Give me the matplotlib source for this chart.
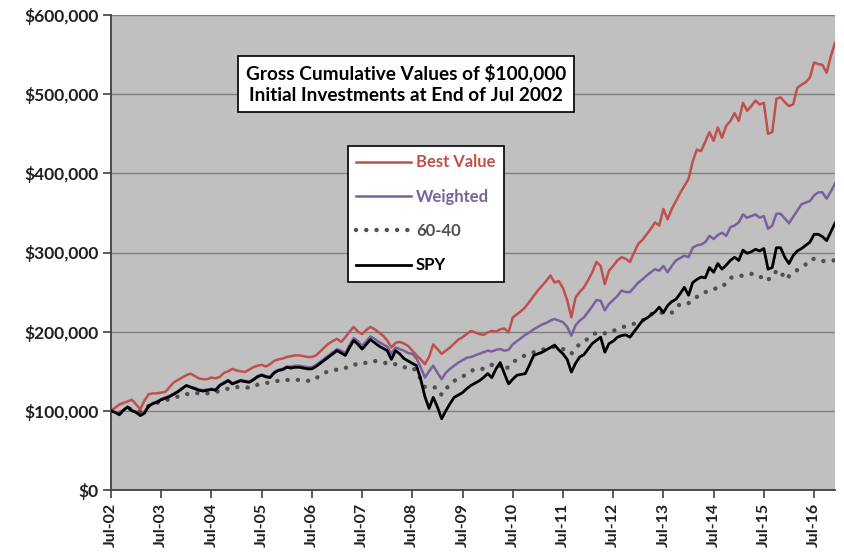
import matplotlib
matplotlib.use("Agg")
import matplotlib.pyplot as plt
from matplotlib.ticker import FuncFormatter

# Monthly gross values ($ thousands), end of Jul 2002 to end of Dec 2016
best_value = [
    100, 104, 108, 110, 112, 114, 108, 102, 113, 121, 122, 122,
    123, 124, 130, 136, 139, 142, 145, 147, 144, 141, 140, 140,
    142, 141, 143, 148, 150, 153, 151, 150, 149, 152, 155, 157,
    158, 156, 159, 163, 165, 166, 168, 169, 170, 170, 169, 168,
    168, 170, 175, 180, 185, 188, 191, 187, 193, 200, 206, 200,
    197, 202, 206, 203, 199, 195, 189, 180, 186, 187, 185, 182,
    176, 170, 165, 159, 168, 184, 178, 172, 176, 180, 185, 190,
    193, 197, 201, 199, 197, 196, 199, 201, 200, 203, 204, 199,
    218, 222, 226, 231, 238, 245, 252, 258, 264, 271, 262, 264,
    255, 240, 218, 243, 250, 256, 265, 275, 288, 283, 260, 277,
    283, 290, 294, 292, 288, 300, 311, 316, 323, 330, 338, 334,
    355, 342, 355, 365, 375, 384, 393, 415, 430, 428, 440, 452,
    441, 458, 445, 460, 466, 476, 466, 489, 479, 485, 492, 487,
    489, 450, 452, 494, 496, 490, 485, 487, 508, 512, 515, 521,
    540, 538, 537, 527, 548, 565,
]

weighted = [
    100, 98, 96, 101, 105, 101, 99, 96, 99, 107, 110, 112,
    115, 117, 119, 122, 125, 129, 132, 130, 129, 127, 126, 127,
    128, 127, 133, 136, 139, 135, 137, 139, 138, 137, 140, 144,
    146, 144, 143, 149, 152, 153, 156, 156, 157, 157, 156, 155,
    155, 158, 162, 166, 170, 174, 178, 176, 173, 183, 192, 188,
    182, 188, 194, 191, 187, 184, 181, 172, 180, 178, 176, 173,
    172, 166, 155, 142, 150, 157, 148, 140, 148, 153, 157, 161,
    164, 167, 168, 170, 172, 174, 176, 175, 177, 178, 176, 177,
    184, 188, 192, 196, 199, 203, 206, 209, 211, 214, 216, 214,
    212, 206, 195, 208, 214, 218, 225, 232, 240, 239, 227, 235,
    240, 245, 252, 250, 250, 256, 262, 266, 271, 275, 279, 277,
    283, 275, 283, 290, 293, 296, 294, 306, 309, 310, 313, 321,
    317, 322, 325, 321, 332, 334, 338, 348, 344, 346, 348, 344,
    346, 330, 334, 349, 349, 343, 337, 345, 353, 361, 363, 365,
    372, 376, 376, 368, 377, 387,
]

sixty_forty = [
    100, 99, 97, 100, 103, 102, 101, 99, 101, 106, 108, 110,
    112, 113, 115, 117, 118, 119, 121, 122, 123, 122, 121, 122,
    123, 124, 125, 127, 128, 128, 130, 130, 130, 129, 131, 133,
    134, 135, 136, 137, 138, 139, 139, 139, 139, 139, 139, 138,
    138, 141, 145, 148, 150, 151, 152, 152, 154, 157, 159, 158,
    159, 161, 163, 163, 162, 161, 160, 158, 159, 157, 155, 155,
    155, 150, 140, 130, 130, 130, 129, 120, 127, 134, 138, 140,
    143, 147, 150, 153, 153, 153, 155, 158, 161, 157, 151, 156,
    161, 165, 168, 170, 172, 174, 176, 177, 179, 180, 181, 180,
    178, 176, 172, 180, 184, 188, 191, 195, 199, 199, 198, 201,
    201, 203, 205, 207, 209, 210, 212, 214, 218, 222, 223, 224,
    224, 224, 224, 230, 235, 235, 236, 240, 244, 248, 250, 251,
    254, 255, 256, 262, 268, 269, 270, 271, 272, 273, 272, 271,
    264, 266, 268, 277, 277, 266, 270, 275, 278, 281, 285, 291,
    292, 290, 289, 290, 290, 290,
]

spy = [
    100, 98, 95, 101, 105, 100, 98, 94, 97, 106, 109, 111,
    114, 116, 118, 121, 124, 128, 132, 130, 128, 126, 125, 126,
    127, 126, 132, 135, 138, 134, 136, 138, 137, 136, 139, 143,
    145, 143, 142, 148, 151, 152, 155, 154, 155, 155, 154, 153,
    153, 156, 160, 164, 168, 172, 176, 173, 170, 180, 189, 184,
    178, 184, 190, 186, 182, 179, 176, 165, 176, 172, 166, 163,
    160, 157, 140, 118, 103, 117, 105, 90, 100, 109, 117, 120,
    123, 128, 132, 135, 138, 142, 147, 142, 153, 161, 147, 134,
    140, 145, 146, 147, 158, 170, 172, 174, 177, 180, 183, 177,
    172, 165, 149, 160, 168, 171, 178, 185, 189, 193, 174, 185,
    188, 193, 195, 196, 193, 200, 207, 214, 217, 221, 225, 231,
    224, 233, 238, 241, 248, 256, 246, 262, 266, 269, 268, 281,
    275, 286, 279, 284, 290, 294, 290, 303, 299, 301, 304, 302,
    305, 279, 281, 306, 306, 294, 286, 296, 302, 305, 309, 313,
    323, 323, 320, 315, 326, 337,
]

tick_labels = ["Jul-02", "Jul-03", "Jul-04", "Jul-05", "Jul-06", "Jul-07", "Jul-08",
               "Jul-09", "Jul-10", "Jul-11", "Jul-12", "Jul-13", "Jul-14", "Jul-15", "Jul-16"]

font = "Lato"

fig = plt.figure(figsize=(8.44, 5.56), dpi=100)
ax = fig.add_axes([111 / 844, 1 - 490 / 556, 724 / 844, 475 / 556])
ax.set_facecolor("#C0C0C0")

months = list(range(len(spy)))
to_dollars = lambda s: [v * 1000 for v in s]

ax.plot(months, to_dollars(best_value), color="#C0504D", lw=1.8, label="Best Value", zorder=3)
ax.plot(months, to_dollars(weighted), color="#7B60A0", lw=1.8, label="Weighted", zorder=3)
ax.plot(months, to_dollars(sixty_forty), color="#505050", lw=3.2, linestyle=(0, (0.01, 2.3)),
        dash_capstyle="round", label="60-40", zorder=3)
ax.plot(months, to_dollars(spy), color="black", lw=2.0, label="SPY", zorder=4)

ax.set_xlim(0, len(spy) - 1)
ax.set_ylim(0, 600000)
ax.set_yticks(range(0, 600001, 100000))
ax.yaxis.set_major_formatter(FuncFormatter(lambda v, p: "${:,.0f}".format(v)))
ax.set_xticks(range(0, 12 * len(tick_labels), 12))
ax.set_xticklabels(tick_labels, rotation=90)

ax.grid(axis="y", color="#7F7F7F", lw=1.0, zorder=1)
ax.set_axisbelow(True)
for s in ["top", "right"]:
    ax.spines[s].set_visible(False)
for s in ["left", "bottom"]:
    ax.spines[s].set_color("#404040")
    ax.spines[s].set_linewidth(1.3)
ax.tick_params(direction="out", length=6, width=1.2, color="#404040", pad=3)
for lab in ax.get_yticklabels():
    lab.set_fontsize(12.5)
for lab in ax.get_xticklabels():
    lab.set_fontsize(11.5)
for lab in ax.get_xticklabels() + ax.get_yticklabels():
    lab.set_fontfamily(font)
    lab.set_fontweight("bold")
    lab.set_color("#202020")

ax.text(0.407, 0.855, "Gross Cumulative Values of $100,000\nInitial Investments at End of Jul 2002",
        transform=ax.transAxes, ha="center", va="center", fontfamily=font, fontweight="bold",
        fontsize=13.7, linespacing=1.3,
        bbox=dict(boxstyle="square,pad=0.42", facecolor="white", edgecolor="black", lw=1.2))

leg = ax.legend(loc="upper left", bbox_to_anchor=(0.327, 0.724), borderaxespad=0, frameon=True,
                fancybox=False, edgecolor="black", framealpha=1, labelcolor="linecolor",
                handlelength=3.3, handletextpad=0.3, labelspacing=1.1, borderpad=0.5,
                prop={"family": font, "weight": "bold", "size": 12})
leg.get_frame().set_linewidth(1.2)

fig.savefig("out.png", dpi=100)
